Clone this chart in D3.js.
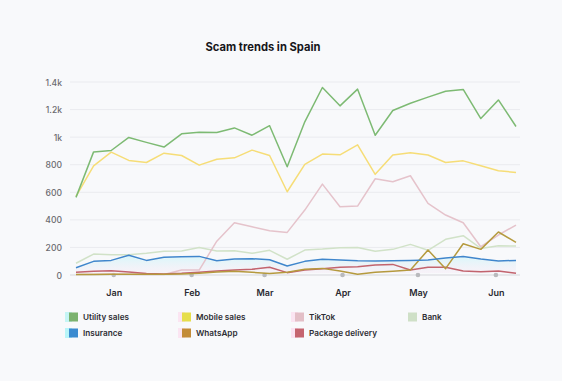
<!DOCTYPE html>
<html>
<head>
<meta charset="utf-8">
<script src="https://cdn.jsdelivr.net/npm/d3@7"></script>
<style>
  html, body { margin: 0; padding: 0; background: #f8f9fb; }
  svg { display: block; font-family: Inter, "Noto Sans", sans-serif; }
</style>
</head>
<body>
<svg id="chart" width="562" height="381"></svg>
<script>
// ---- data ----
const weekStarts = ["2023-12-17","2023-12-24","2023-12-31","2024-01-07","2024-01-14","2024-01-21","2024-01-28",
  "2024-02-04","2024-02-11","2024-02-18","2024-02-25","2024-03-03","2024-03-10","2024-03-17","2024-03-24",
  "2024-03-31","2024-04-07","2024-04-14","2024-04-21","2024-04-28","2024-05-05","2024-05-12","2024-05-19",
  "2024-05-26","2024-06-02","2024-06-09"];
const utilitySales = [563,893,903,998,962,928,1024,1035,1034,1067,1014,1083,785,1111,1360,1227,1348,1014,1193,1246,1290,1333,1346,1135,1270,1077];
const mobileSales = [570,792,891,831,816,884,867,797,840,850,906,867,604,802,877,872,944,730,870,886,870,816,828,792,756,744];
const tiktok = [4,6,8,6,4,4,36,36,245,379,350,321,309,471,659,495,500,698,676,720,519,435,379,205,290,362];
const bank = [85,152,147,147,157,172,174,200,174,176,157,179,114,181,188,198,200,172,186,222,179,259,285,193,212,210];
const insurance = [53,99,106,143,106,128,133,135,104,116,118,111,65,99,114,109,103,101,104,106,109,123,135,116,101,106];
const whatsapp = [4,4,5,5,5,5,8,12,22,27,20,10,20,41,48,29,5,20,27,36,181,46,227,186,312,237];
const packageDelivery = [20,27,31,22,10,7,12,20,29,36,41,56,17,36,46,56,60,72,77,36,56,56,29,24,29,12];
const yTicks = [0,200,400,600,800,1000,1200,1400];
const monthTicks = ["2024-01-01","2024-02-01","2024-03-01","2024-04-01","2024-05-01","2024-06-01"];

const series = [
  {name:"Utility sales", values: utilitySales, color:"#7dba73", swatch:"#7cb26f", glow:"#b8f4f4"},
  {name:"Mobile sales", values: mobileSales, color:"#f6dd77", swatch:"#e6de4c", glow:"#fbe0f0"},
  {name:"TikTok", values: tiktok, color:"#e5c3cb", swatch:"#e3bfc7", glow:"#fbe0f0"},
  {name:"Bank", values: bank, color:"#d1e2c8", swatch:"#cfe0c7", glow:null},
  {name:"Insurance", values: insurance, color:"#3f86cc", swatch:"#3b8bd0", glow:"#a8f4f8"},
  {name:"WhatsApp", values: whatsapp, color:"#b59a3e", swatch:"#c38c38", glow:"#fbe0f0"},
  {name:"Package delivery", values: packageDelivery, color:"#c2646e", swatch:"#c5646f", glow:"#fbdcf0"}
];

// ---- chart ----
const parse = d3.timeParse("%Y-%m-%d");
const dates = weekStarts.map(parse);
const svg = d3.select("#chart");

const x = d3.scaleTime().domain([dates[0], dates[dates.length-1]]).range([76, 516]);
const y = d3.scaleLinear().domain([0, 1400]).range([275, 82]);

// title
svg.append("text").attr("x", 263).attr("y", 51).attr("text-anchor", "middle")
  .attr("font-size", 11.2).attr("font-weight", 700).attr("fill", "#16161a")
  .text("Scam trends in Spain");

// grid
svg.append("g").selectAll("line").data(yTicks.filter(d => d > 0)).join("line")
  .attr("x1", 70).attr("x2", 520).attr("y1", d => y(d)).attr("y2", d => y(d))
  .attr("stroke", "#eaebef").attr("stroke-width", 1);

// y axis labels
const yAxis = d3.axisLeft(y).tickValues(yTicks).tickSize(0).tickPadding(0)
  .tickFormat(d => d >= 1000 ? (d/1000) + "k" : d);
const yg = svg.append("g").attr("transform", "translate(62,0)").call(yAxis);
yg.select(".domain").remove();
yg.selectAll("text").attr("font-size", 8.6).attr("font-weight", 500).attr("fill", "#6b6b70")
  .attr("font-family", "Inter, sans-serif").attr("dy", "0.35em");

// baseline axis
svg.append("line").attr("x1", 70).attr("x2", 520).attr("y1", y(0)).attr("y2", y(0))
  .attr("stroke", "#d6d7db").attr("stroke-width", 1.2);

// x axis
const months = monthTicks.map(parse);
const xAxis = d3.axisBottom(x).tickValues(months).tickSize(0).tickPadding(0)
  .tickFormat(d3.timeFormat("%b"));
const xg = svg.append("g").attr("transform", `translate(0,${y(0)})`).call(xAxis);
xg.select(".domain").remove();
xg.selectAll("text").attr("font-size", 9).attr("font-weight", 600).attr("fill", "#2a2a30")
  .attr("font-family", "Inter, sans-serif").attr("y", 14.5);
svg.append("g").selectAll("circle").data(months).join("circle")
  .attr("cx", d => x(d)).attr("cy", y(0)).attr("r", 2.3).attr("fill", "#b9babd");

// faint glow under insurance
const defs = svg.append("defs");
const grad = defs.append("linearGradient").attr("id", "insGlow").attr("x1", 0).attr("x2", 0).attr("y1", 0).attr("y2", 1);
grad.append("stop").attr("offset", "0%").attr("stop-color", "#d2f7fa").attr("stop-opacity", 0.8);
grad.append("stop").attr("offset", "100%").attr("stop-color", "#f6e8f4").attr("stop-opacity", 0.4);
const ins = series.find(s => s.name === "Insurance");
svg.append("path")
  .datum(ins.values)
  .attr("fill", "url(#insGlow)")
  .attr("d", d3.area().x((d,i) => x(dates[i])).y0(y(0) - 2).y1(d => y(d) + 1));

// lines (draw order: background first)
const line = d3.line().x((d,i) => x(dates[i])).y(d => y(d));
const drawOrder = ["Bank","TikTok","Package delivery","WhatsApp","Insurance","Mobile sales","Utility sales"];
drawOrder.forEach(n => {
  const s = series.find(t => t.name === n);
  svg.append("path").datum(s.values)
    .attr("fill", "none").attr("stroke", s.color).attr("stroke-width", 1.5)
    .attr("stroke-linejoin", "round")
    .attr("d", line);
});

// legend
const colX = [69, 182, 295, 408];
const rowY = [317, 333];
const lg = svg.append("g");
series.forEach((s, i) => {
  const cx = colX[i % 4], cy = rowY[Math.floor(i / 4)];
  if (s.glow) {
    lg.append("rect").attr("x", cx - 4).attr("y", cy - 5).attr("width", 7).attr("height", 10)
      .attr("fill", s.glow).attr("opacity", 0.8);
  }
  lg.append("rect").attr("x", cx).attr("y", cy - 4.5).attr("width", 9).attr("height", 9)
    .attr("fill", s.swatch);
  lg.append("text").attr("x", cx + 14).attr("y", cy).attr("dy", "0.35em")
    .attr("font-size", 8.2).attr("font-weight", 600).attr("fill", "#2e2e34")
    .text(s.name);
});
</script>
</body>
</html>
